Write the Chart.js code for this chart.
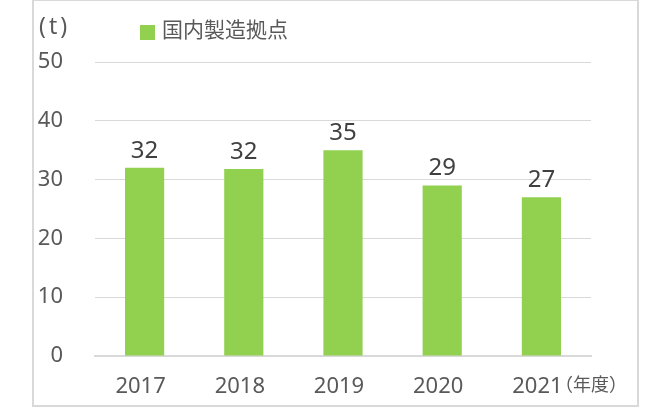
<!DOCTYPE html>
<html>
<head>
<meta charset="utf-8">
<script src="https://cdn.jsdelivr.net/npm/chart.js@4"></script>
<style>
html,body{margin:0;padding:0;background:#fff;}
#wrap{width:656px;height:411px;}
</style>
</head>
<body>
<div id="wrap"><canvas id="c" width="656" height="411"></canvas></div>
<script>
const categories = ['2017', '2018', '2019', '2020', '2021'];
const values = [32.0, 31.8, 35.0, 29.0, 27.0];
const seriesName = '国内製造拠点';
const yTicks = [0, 10, 20, 30, 40, 50];
const unitLabel = '(t)';
const xUnitLabel = '（年度）';

const NUM_FONT = '"Noto Sans", "Noto Sans CJK JP", sans-serif';
const CJK_FONT = '"Noto Sans CJK JP", "Noto Sans", sans-serif';
const GREEN = '#92d050';

const decor = {
  id: 'decor',
  beforeDraw(chart) {
    const ctx = chart.ctx;
    ctx.save();
    ctx.fillStyle = '#ffffff';
    ctx.fillRect(0, 0, chart.width, chart.height);
    ctx.strokeStyle = '#d9d9d9';
    ctx.lineWidth = 2;
    ctx.strokeRect(33, 0, 605, 406);
    ctx.restore();
  },
  afterDraw(chart) {
    const ctx = chart.ctx;
    ctx.save();
    // unit label
    ctx.fillStyle = '#595959';
    ctx.font = '23px ' + NUM_FONT;
    ctx.textBaseline = 'middle';
    ctx.textAlign = 'left';
    try { ctx.letterSpacing = '3px'; } catch (e) {}
    ctx.fillText(unitLabel, 39, 27);
    try { ctx.letterSpacing = '0px'; } catch (e) {}
    // legend
    ctx.fillStyle = GREEN;
    ctx.fillRect(140, 25, 15, 15);
    ctx.fillStyle = '#595959';
    ctx.font = '21px ' + CJK_FONT;
    ctx.fillText(seriesName, 162, 29);
    // x unit
    ctx.font = '18px ' + CJK_FONT;
    ctx.fillText(xUnitLabel, 555, 384);
    // data labels
    const meta = chart.getDatasetMeta(0);
    ctx.fillStyle = '#404040';
    ctx.font = '24px ' + NUM_FONT;
    ctx.textAlign = 'center';
    ctx.textBaseline = 'bottom';
    meta.data.forEach((bar, i) => {
      ctx.fillText(String(Math.round(values[i])), bar.x, bar.y - 5);
    });
    ctx.restore();
  }
};

new Chart(document.getElementById('c'), {
  type: 'bar',
  data: {
    labels: categories,
    datasets: [{
      label: seriesName,
      data: values,
      backgroundColor: GREEN,
      borderWidth: 0,
      categoryPercentage: 1.0,
      barPercentage: 0.395
    }]
  },
  options: {
    responsive: false,
    animation: false,
    devicePixelRatio: 1,
    layout: { padding: { top: 62, right: 65, bottom: 0, left: 0 } },
    plugins: { legend: { display: false }, tooltip: { enabled: false } },
    scales: {
      x: {
        grid: { display: false, drawTicks: false },
        border: { display: true, color: '#d9d9d9', width: 2 },
        ticks: { color: '#595959', font: { family: NUM_FONT, size: 22 }, padding: 18, labelOffset: -4 },
        afterFit(s) { s.height = 55; }
      },
      y: {
        min: 0, max: 50,
        afterBuildTicks(s) { s.ticks = yTicks.map(v => ({ value: v })); },
        grid: { color: '#d9d9d9', lineWidth: 1, drawTicks: false },
        border: { display: false },
        ticks: { color: '#595959', font: { family: NUM_FONT, size: 22 }, padding: 32 },
        afterFit(s) { s.width = 95; }
      }
    }
  },
  plugins: [decor]
});
</script>
</body>
</html>
